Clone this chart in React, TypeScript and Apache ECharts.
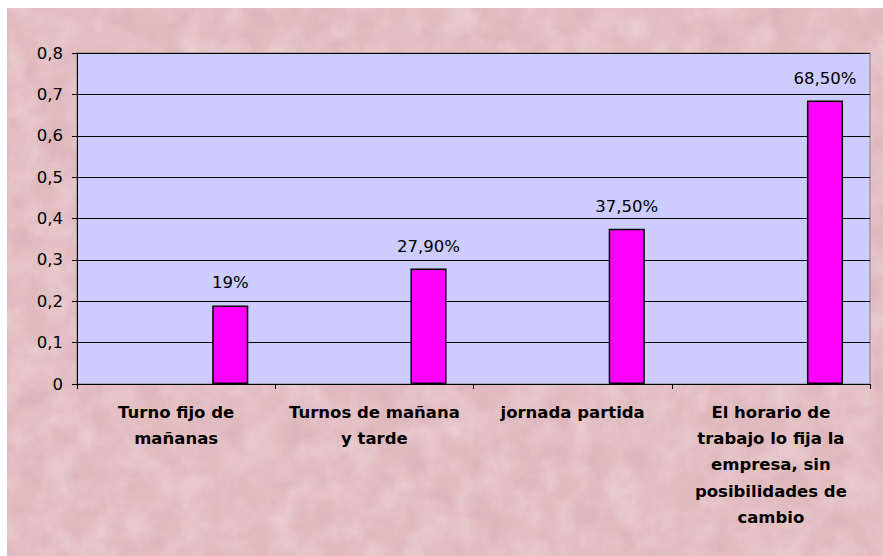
import React, { useEffect, useRef } from "react";
import * as echarts from "echarts";

const categories = [
  "Turno fijo de\nmañanas",
  "Turnos de mañana\ny tarde",
  "jornada partida",
  "El horario de\ntrabajo lo fija la\nempresa, sin\nposibilidades de\ncambio",
];
const values = [0.19, 0.279, 0.375, 0.685];
const valueLabels = ["19%", "27,90%", "37,50%", "68,50%"];
const yTicks = [0, 0.1, 0.2, 0.3, 0.4, 0.5, 0.6, 0.7, 0.8];

const textureSvg =
  "<svg xmlns='http://www.w3.org/2000/svg' width='876' height='548'>" +
  "<filter id='f'><feTurbulence type='fractalNoise' baseFrequency='0.03' numOctaves='4' seed='7'/>" +
  "<feColorMatrix values='0 0 0 0 1  0 0 0 0 1  0 0 0 0 1  0 0 0 0.55 -0.2'/></filter>" +
  "<filter id='g'><feTurbulence type='fractalNoise' baseFrequency='0.05' numOctaves='3' seed='2'/>" +
  "<feColorMatrix values='0 0 0 0 0.55  0 0 0 0 0.35  0 0 0 0 0.4  0 0 0 0.45 -0.18'/></filter>" +
  "<rect width='100%' height='100%' fill='#E2BBBF'/>" +
  "<rect width='100%' height='100%' filter='url(#f)'/>" +
  "<rect width='100%' height='100%' filter='url(#g)'/>" +
  "</svg>";
const textureUrl = "url(\"data:image/svg+xml," + encodeURIComponent(textureSvg) + "\")";

export default function App() {
  const ref = useRef<HTMLDivElement>(null);
  useEffect(() => {
    if (!ref.current) return;
    const chart = echarts.init(ref.current, null, { renderer: "svg" });
    const empty = categories.map(() => null);
    const emptySeries = [0, 1, 2].map((i) => ({
      type: "bar",
      name: "e" + i,
      data: empty,
      barGap: "0%",
      barCategoryGap: "27.2%",
      silent: true,
    }));
    chart.setOption({
      animation: false,
      backgroundColor: "transparent",
      textStyle: { fontFamily: "DejaVu Sans" },
      grid: {
        left: 70,
        top: 45,
        right: 13,
        bottom: 172,
        show: true,
        backgroundColor: "#CCCCFF",
        borderColor: "#808080",
        borderWidth: 1,
      },
      xAxis: {
        type: "category",
        data: categories,
        axisLine: { lineStyle: { color: "#000", width: 1 } },
        axisTick: { show: true, length: 5, lineStyle: { color: "#000" } },
        axisLabel: {
          interval: 0,
          margin: 15,
          color: "#000",
          fontFamily: "DejaVu Sans",
          fontWeight: "bold",
          fontSize: 16.5,
          lineHeight: 26.3,
          align: "center",
        },
      },
      yAxis: {
        type: "value",
        min: yTicks[0],
        max: yTicks[yTicks.length - 1],
        interval: 0.1,
        axisLine: { show: true, lineStyle: { color: "#000", width: 1 } },
        axisTick: { show: true, length: 5, lineStyle: { color: "#000" } },
        splitLine: { show: true, lineStyle: { color: "#000", width: 1 } },
        axisLabel: {
          margin: 14,
          color: "#000",
          fontFamily: "DejaVu Sans",
          fontSize: 16.5,
          formatter: (v: number) => {
            const r = Math.round(v * 10) / 10;
            return r === 0 ? "0" : String(r).replace(".", ",");
          },
        },
      },
      series: [
        ...emptySeries,
        {
          type: "bar",
          name: "valores",
          data: values,
          barGap: "0%",
          barCategoryGap: "27.2%",
          itemStyle: { color: "#FF00FF", borderColor: "#000", borderWidth: 1.5 },
          label: {
            show: true,
            position: "top",
            distance: 14,
            color: "#000",
            fontFamily: "DejaVu Sans",
            fontSize: 16.5,
            formatter: (p: any) => valueLabels[p.dataIndex],
          },
        },
      ],
    });
    return () => chart.dispose();
  }, []);
  return (
    <div
      style={{
        position: "fixed",
        left: 0,
        top: 0,
        width: 883,
        height: 556,
        background: "#fff",
      }}
    >
      <div
        ref={ref}
        style={{
          position: "absolute",
          left: 7,
          top: 8,
          width: 876,
          height: 548,
          backgroundColor: "#E2BBBF",
          backgroundImage: textureUrl,
        }}
      />
    </div>
  );
}
